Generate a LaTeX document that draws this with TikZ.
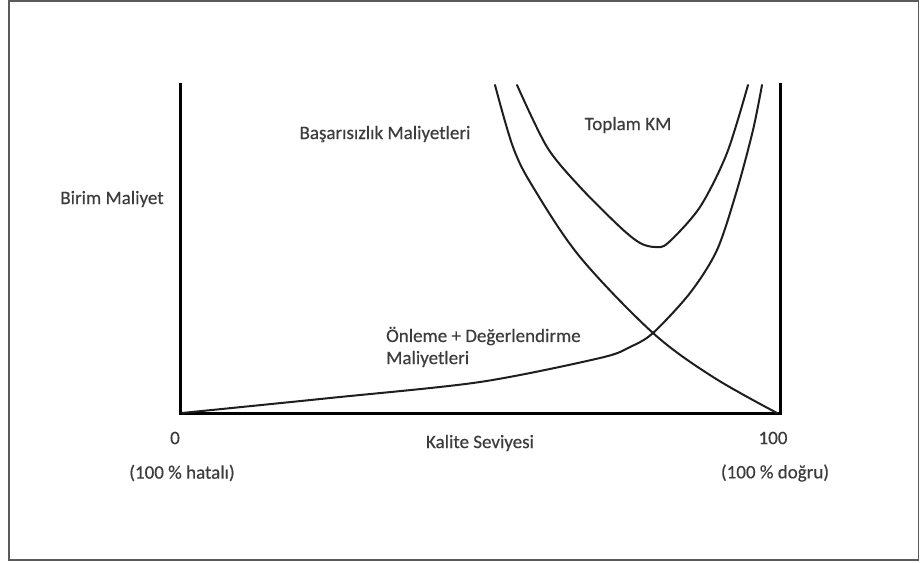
\documentclass[tikz,border=0pt]{standalone}
\usepackage{fontspec}
\setmainfont{Carlito}
\newfontfamily\lblfont{Carlito}[FakeBold=0.4]
\definecolor{labelgray}{RGB}{60,60,60}
\definecolor{curveink}{RGB}{30,30,30}
\definecolor{framegray}{RGB}{90,90,90}
\begin{document}
\begin{tikzpicture}[x=1pt,y=-1pt,
  lbl/.style={text=labelgray,font=\lblfont\fontsize{19}{22}\selectfont,inner sep=0pt},
  axisline/.style={line width=3pt,black},
  costcurve/.style={line width=2pt,curveink,line cap=round,line join=round}]
  \useasboundingbox (0,0) rectangle (920,562);
  % outer frame
  \draw[framegray,line width=1.5pt] (9,0.8) rectangle (918.5,560);

  % axes: two verticals and the quality axis
  \coordinate (yl) at (180,83);
  \coordinate (o) at (180,413);
  \coordinate (e) at (780,413);
  \coordinate (yr) at (780,83);
  \draw[axisline] (yl) -- (o) -- (e) -- (yr);

  % failure costs
  \draw[costcurve] plot[smooth,tension=0.55] coordinates
    {(495,85) (513,147) (533,187) (580,257) (653,333) (713,377) (777,413)};
  % prevention + appraisal costs
  \draw[costcurve] plot[smooth,tension=0.5] coordinates
    {(182,413) (330,398) (480,382) (600,358) (630,347) (653,333) (690,293) (717,250) (737,190) (753,130) (762,85)};
  % total quality cost
  \draw[costcurve] plot[smooth,tension=0.5] coordinates
    {(517,85) (547,147) (580,187) (620,227) (640,243) (655,247) (668,243) (700,207) (727,153) (748,85)};

  % labels
  \node[lbl] (ylab) at (112,199) {Birim Maliyet};
  \node[lbl] (fail) at (385,134) {Başarısızlık Maliyetleri};
  \node[lbl] (tot) at (628,125) {Toplam KM};
  \node[lbl,anchor=west] (prev1) at (386,336) {Önleme + Değerlendirme};
  \node[lbl,anchor=west] (prev2) at (386,359) {Maliyetleri};
  \node[lbl] (zero) at (175,438) {0};
  \node[lbl] (hundred) at (773,438) {100};
  \node[lbl] (xlab) at (480,443) {Kalite Seviyesi};
  \node[lbl] (bad) at (182,473) {(100 \% hatalı)};
  \node[lbl] (good) at (775,473) {(100 \% doğru)};
\end{tikzpicture}
\end{document}
